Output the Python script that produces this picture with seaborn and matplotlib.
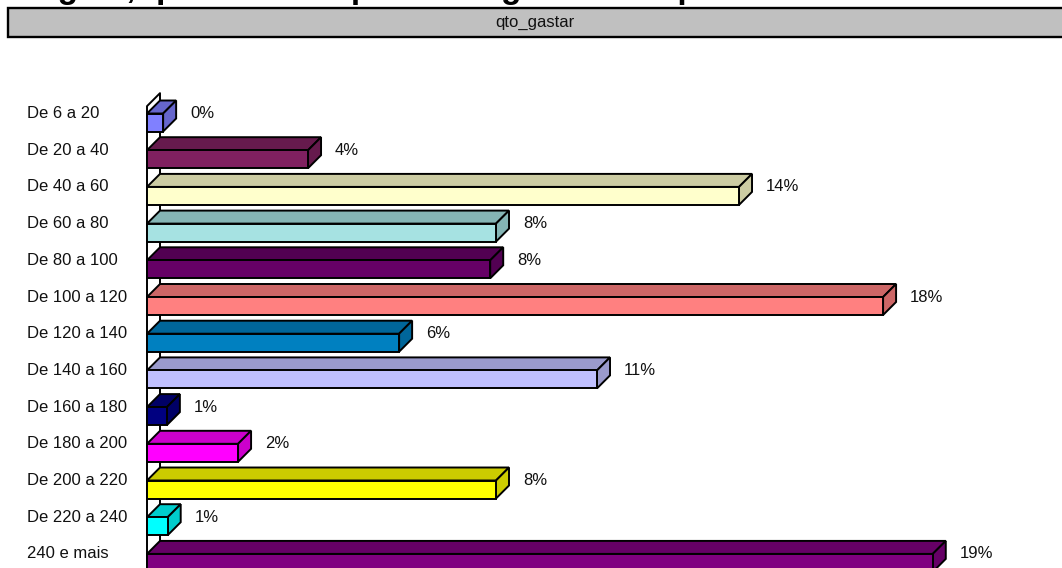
import pandas as pd
import matplotlib.pyplot as plt
import matplotlib.colors as mcolors
import seaborn as sns

categorias = ['De 6 a 20', 'De 20 a 40', 'De 40 a 60', 'De 60 a 80', 'De 80 a 100',
              'De 100 a 120', 'De 120 a 140', 'De 140 a 160', 'De 160 a 180',
              'De 180 a 200', 'De 200 a 220', 'De 220 a 240', '240 e mais']
valores = [0.39, 3.89, 14.3, 8.43, 8.29, 17.78, 6.09, 10.87, 0.48, 2.2, 8.43, 0.5, 18.98]
rotulos = ['0%', '4%', '14%', '8%', '8%', '18%', '6%', '11%', '1%', '2%', '8%', '1%', '19%']
cores = ['#8080ff', '#802060', '#ffffcc', '#a6e2e2', '#660066', '#ff8080', '#0080c0',
         '#c0c0ff', '#000080', '#ff00ff', '#ffff00', '#00ffff', '#800080']

titulo = 'Viagem, quanto você pretende gastar  em p'
painel = 'qto_gastar'

W, H = 1062, 568
PX_X = 41.4   # pixels por ponto percentual
PX_Y = 36.7   # pixels entre categorias
X0 = 147      # pixel do eixo
Y0 = 122.5    # pixel do centro da primeira barra
DX = 13 / PX_X
DY = 13 / PX_Y
LW = 1.4
ALTURA = 18 / PX_Y

sns.set_theme(style='white')
plt.rcParams['font.family'] = ['Liberation Sans', 'DejaVu Sans']

df = pd.DataFrame({'cat': categorias, 'valor': valores})

fig = plt.figure(figsize=(W / 100, H / 100), dpi=100)
ax = fig.add_axes([0, 0, 1, 1])

sns.barplot(data=df, y='cat', x='valor', hue='cat', order=categorias, hue_order=categorias,
            palette=cores, legend=False, dodge=False, width=ALTURA, saturation=1,
            edgecolor='black', linewidth=LW, ax=ax, zorder=5)

ax.set_xlim(-X0 / PX_X, (W - X0) / PX_X)
ax.set_ylim((H - Y0) / PX_Y, -Y0 / PX_Y)
ax.axis('off')

# parede do grafico
topo = -0.5 + 2 / PX_Y
ax.plot([0, 0, DX, DX], [H / PX_Y, topo, topo - DY, H / PX_Y], color='black', lw=LW, zorder=1)
ax.plot([0, DX], [topo + 10 / PX_Y, topo + 10 / PX_Y - DY], color='black', lw=LW, zorder=1)

# faces de cima e do lado
for i, v in enumerate(valores):
    sup = i - ALTURA / 2
    inf = i + ALTURA / 2
    escura = [c * 0.8 for c in mcolors.to_rgb(cores[i])]
    ax.fill([0, DX, v + DX, v], [sup, sup - DY, sup - DY, sup], facecolor=escura,
            edgecolor='black', lw=LW, zorder=4 + i * 0.01)
    ax.fill([v, v + DX, v + DX, v], [sup, sup - DY, inf - DY, inf], facecolor=escura,
            edgecolor='black', lw=LW, zorder=4 + i * 0.01)
    ax.text(v + DX + 14 / PX_X, sup, rotulos[i], fontsize=12, color='#111111',
            ha='left', va='center', zorder=6)
    ax.text(-120 / PX_X, sup, categorias[i], fontsize=12, color='#111111',
            ha='left', va='center', zorder=6)

# painel cinza e titulo cortado
fig.patches.append(plt.Rectangle((8 / W, 1 - 37 / H), 1070 / W, 29 / H, transform=fig.transFigure,
                                 facecolor='#c0c0c0', edgecolor='black', lw=LW + 0.3, figure=fig))
fig.text(535 / W, 1 - 23 / H, painel, fontsize=12, color='#111111', ha='center', va='center')
fig.text(8 / W, 1 + 2 / H, titulo, fontsize=24, fontweight='bold', color='black',
         ha='left', va='baseline')

fig.savefig('out.png', dpi=100)
